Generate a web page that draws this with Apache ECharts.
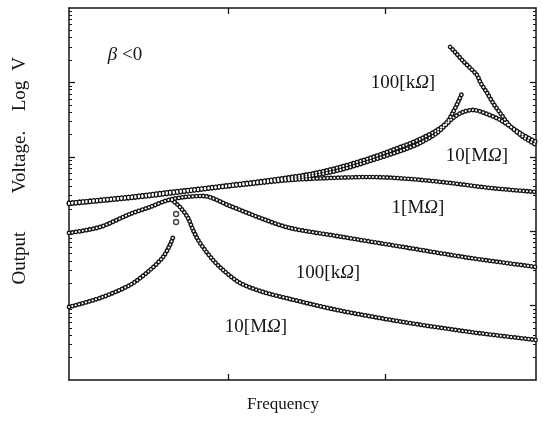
<!DOCTYPE html>
<html><head><meta charset="utf-8">
<script src="https://cdn.jsdelivr.net/npm/echarts@6/dist/echarts.min.js"></script>
<style>html,body{margin:0;padding:0;background:#fff}#c{width:543px;height:443px}</style>
</head><body><div id="c"></div>
<script>
// x = log10(frequency), y = log10(output voltage)
const x1M = [-0.010,0.187,0.378,0.632,0.887,1.141,1.396,1.650,1.905,2.159,2.414,2.668,2.961];
const y1M = [2.379,2.419,2.460,2.527,2.581,2.634,2.688,2.715,2.728,2.702,2.648,2.581,2.527];

const x100kHiRise = [-0.010,0.251,0.505,0.760,1.014,1.269,1.523,1.714,1.905,2.115,2.223,2.331,2.395,2.433,2.465,2.490];
const y100kHiRise = [2.379,2.433,2.487,2.554,2.621,2.688,2.769,2.863,2.984,3.145,3.239,3.360,3.468,3.602,3.737,3.858];
const x100kHiFall = [2.414,2.445,2.490,2.541,2.585,2.605,2.649,2.687,2.732,2.795,2.878,2.961];
const y100kHiFall = [4.476,4.409,4.301,4.194,4.099,4.005,3.858,3.723,3.589,3.414,3.266,3.159];

const x10MHi = [-0.010,0.251,0.505,0.760,1.014,1.269,1.523,1.714,1.905,2.115,2.223,2.331,2.433,2.496,2.560,2.649,2.732,2.859,2.961];
const y10MHi = [2.366,2.419,2.473,2.540,2.608,2.675,2.742,2.823,2.944,3.091,3.185,3.320,3.522,3.602,3.629,3.575,3.495,3.320,3.199];

const x100kLo = [-0.010,0.187,0.378,0.505,0.601,0.652,0.728,0.842,1.014,1.224,1.396,1.695,2.115,2.541,2.961];
const y100kLo = [1.976,2.056,2.231,2.325,2.406,2.433,2.460,2.473,2.339,2.164,2.043,1.935,1.788,1.640,1.519];

const x10MLoRise = [-0.010,0.187,0.378,0.505,0.588,0.632,0.652];
const y10MLoRise = [0.981,1.102,1.277,1.478,1.653,1.815,1.922];
const x10MLoJump = [0.671,0.671];
const y10MLoJump = [2.124,2.231];
const x10MLoFall = [0.645,0.696,0.747,0.779,0.811,0.855,0.906,0.970,1.078,1.224,1.396,1.695,2.115,2.541,2.961];
const y10MLoFall = [2.419,2.325,2.177,2.016,1.882,1.747,1.613,1.478,1.304,1.183,1.089,0.941,0.780,0.645,0.538];

const xMajorTicks = [1, 2];
const yMajorTicks = [1, 2, 3, 4];
const yMinorTicks = [];
for (let d = 0; d < 5; d++) for (let k = 2; k <= 9; k++) yMinorTicks.push(+(d + Math.log10(k)).toFixed(4));

const curveLabels = ['100[k{i|Ω}]', '10[M{i|Ω}]', '1[M{i|Ω}]', '100[k{i|Ω}]', '10[M{i|Ω}]'];
const yNameWords = ['V', 'Log', 'Voltage.', 'Output'];
const xName = 'Frequency';
const betaLabel = '{i|β} <0';

const zip = (xs, ys) => xs.map((x, i) => [x, ys[i]]);
const curves = [
  zip(x1M, y1M), zip(x100kHiRise, y100kHiRise), zip(x100kHiFall, y100kHiFall),
  zip(x10MHi, y10MHi), zip(x100kLo, y100kLo), zip(x10MLoRise, y10MLoRise), zip(x10MLoFall, y10MLoFall)
];
const INK = '#141414';
const dash = [0.01, 3.5];
const series = [];
curves.forEach(d => series.push({type:'line', data:d, smooth:0.3, symbol:'none', silent:true,
  lineStyle:{color:INK, width:4.8, type:dash, cap:'round'}, z:2}));
curves.forEach(d => series.push({type:'line', data:d, smooth:0.3, symbol:'none', silent:true,
  lineStyle:{color:'#fff', width:2.1, type:dash, cap:'round'}, z:3}));
series.push({type:'scatter', data:zip(x10MLoJump, y10MLoJump), symbol:'circle', symbolSize:5, silent:true,
  itemStyle:{color:'#fff', borderColor:INK, borderWidth:1.4}, z:4});

const serif = '"Liberation Serif", "DejaVu Serif", serif';
function txt(t, x, y, size, rot) {
  return {type:'text', x:x, y:y, rotation:rot || 0, silent:true,
    style:{text:t, font: size + 'px ' + serif, fill:INK, align:'center', verticalAlign:'middle',
      rich:{i:{fontStyle:'italic', fontFamily:serif, fontSize:size, fill:INK}}}};
}

const tickMajor = {show:true, inside:true, length:6, lineStyle:{color:INK, width:1.3}};
const tickMinor = {show:true, inside:true, length:3, lineStyle:{color:INK, width:1}};
function axis(pos, min, max, showLine, tick, values) {
  return {type:'value', position:pos, min:min, max:max,
    axisLine:{show:showLine, onZero:false, lineStyle:{color:INK, width:1.5}},
    axisTick:Object.assign({}, tick, {customValues:values}),
    axisLabel:{show:false}, splitLine:{show:false}};
}
const option = {
  animation:false,
  backgroundColor:'#fff',
  grid:{left:69, top:8, right:7, bottom:63},
  xAxis:[
    axis('bottom', -0.01, 2.96, true, tickMajor, xMajorTicks),
    axis('top', -0.01, 2.96, true, tickMajor, xMajorTicks)
  ],
  yAxis:[
    axis('left', 0, 5, true, tickMajor, yMajorTicks),
    axis('left', 0, 5, false, tickMinor, yMinorTicks),
    axis('right', 0, 5, true, tickMajor, yMajorTicks),
    axis('right', 0, 5, false, tickMinor, yMinorTicks)
  ],
  series: series,
  graphic:[
    txt(betaLabel, 125, 55, 19),
    txt(curveLabels[0], 403, 83, 19),
    txt(curveLabels[1], 477, 156, 19),
    txt(curveLabels[2], 418, 208, 19),
    txt(curveLabels[3], 328, 273, 19),
    txt(curveLabels[4], 256, 327, 19),
    txt(xName, 283, 405, 17),
    txt(yNameWords[0], 20, 64, 19, Math.PI/2),
    txt(yNameWords[1], 20, 96, 19, Math.PI/2),
    txt(yNameWords[2], 20, 162, 19, Math.PI/2),
    txt(yNameWords[3], 20, 258, 19, Math.PI/2)
  ]
};
const chart = echarts.init(document.getElementById('c'), null, {renderer:'canvas'});
chart.setOption(option);
</script></body></html>
